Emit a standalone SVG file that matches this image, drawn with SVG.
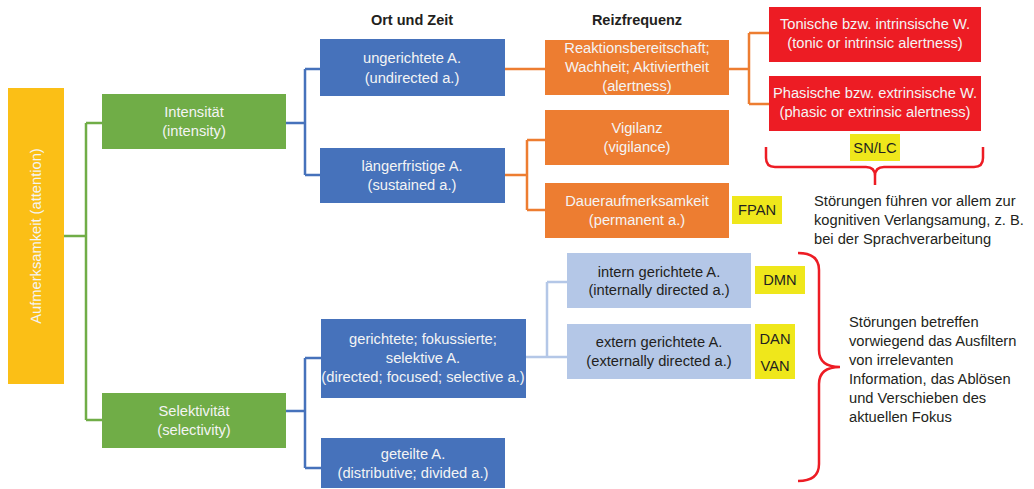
<svg xmlns="http://www.w3.org/2000/svg" width="1034" height="489" viewBox="0 0 1034 489">
<style>
text{font-family:"Liberation Sans",Arial,sans-serif;font-size:14.7px;text-anchor:middle}
.w{fill:#F4F4F4}
.d{fill:#231F20}
.l{text-anchor:start}
.h{font-weight:bold;font-size:14.5px}
.c{fill:none;stroke-width:2.5}
.g{stroke:#70AD47}
.b{stroke:#4672BB}
.o{stroke:#ED7D31}
.lb{stroke:#B4C7E7}
.br{fill:none;stroke:#ED1C24;stroke-width:2.5}
.hl{fill:#EFE71B}
</style>
<rect width="1034" height="489" fill="#FFFFFF"/>
<g id="connectors">
<path class="c g" d="M64,236 H86 M86,123 V420 M86,123 H102 M86,420 H102"/>
<path class="c b" d="M286,123 H305 M305,69 V175 M305,69 H320 M305,175 H320"/>
<path class="c b" d="M286,411 H305 M305,358 V468 M305,358 H321 M305,468 H321"/>
<path class="c o" d="M505,69 H545"/>
<path class="c o" d="M505,175 H527 M527,140 V210 M527,140 H545 M527,210 H545"/>
<path class="c o" d="M729,69 H749 M749,33 V104 M749,33 H769 M749,104 H769"/>
<path class="c lb" d="M526,357 H567 M547,282 V357 M547,282 H567"/>
</g>
<g id="headers">
<text class="h d" x="412" y="25">Ort und Zeit</text>
<text class="h d" x="637" y="25">Reizfrequenz</text>
</g>
<g id="attention">
<rect x="8" y="88" width="56" height="296" fill="#FBBF16"/>
<text class="w" transform="translate(41,236) rotate(-90)" font-size="15">Aufmerksamkeit (attention)</text>
</g>
<g id="intensitaet">
<rect x="102" y="94" width="184" height="55" fill="#70AD47"/>
<text class="w" x="194" y="117">Intensität</text>
<text class="w" x="194" y="136">(intensity)</text>
</g>
<g id="selektivitaet">
<rect x="102" y="393" width="184" height="55" fill="#70AD47"/>
<text class="w" x="194" y="416">Selektivität</text>
<text class="w" x="194" y="435">(selectivity)</text>
</g>
<g id="ungerichtete">
<rect x="320" y="39" width="185" height="57" fill="#4672BB"/>
<text class="w" x="412" y="63">ungerichtete A.</text>
<text class="w" x="412" y="83">(undirected a.)</text>
</g>
<g id="laengerfristige">
<rect x="320" y="148" width="185" height="55" fill="#4672BB"/>
<text class="w" x="412" y="171">längerfristige A.</text>
<text class="w" x="412" y="190">(sustained a.)</text>
</g>
<g id="gerichtete">
<rect x="321" y="319" width="205" height="79" fill="#4672BB"/>
<text class="w" x="423" y="344">gerichtete; fokussierte;</text>
<text class="w" x="423" y="363">selektive A.</text>
<text class="w" x="423" y="382">(directed; focused; selective a.)</text>
</g>
<g id="geteilte">
<rect x="321" y="438" width="184" height="50" fill="#4672BB"/>
<text class="w" x="413" y="459">geteilte A.</text>
<text class="w" x="413" y="478">(distributive; divided a.)</text>
</g>
<g id="alertness">
<rect x="545" y="40" width="184" height="55" fill="#ED7D31"/>
<text class="w" x="637" y="53">Reaktionsbereitschaft;</text>
<text class="w" x="637" y="72">Wachheit; Aktiviertheit</text>
<text class="w" x="637" y="91">(alertness)</text>
</g>
<g id="vigilanz">
<rect x="545" y="110" width="184" height="55" fill="#ED7D31"/>
<text class="w" x="637" y="133">Vigilanz</text>
<text class="w" x="637" y="152">(vigilance)</text>
</g>
<g id="daueraufmerksamkeit">
<rect x="545" y="183" width="184" height="55" fill="#ED7D31"/>
<text class="w" x="637" y="206">Daueraufmerksamkeit</text>
<text class="w" x="637" y="225">(permanent a.)</text>
</g>
<g id="fpan">
<rect class="hl" x="732" y="196" width="50" height="28"/>
<text class="d" x="757" y="215">FPAN</text>
</g>
<g id="tonische">
<rect x="769" y="7" width="212" height="55" fill="#ED1C24"/>
<text class="w" x="875" y="29">Tonische bzw. intrinsische W.</text>
<text class="w" x="875" y="48">(tonic or intrinsic alertness)</text>
</g>
<g id="phasische">
<rect x="769" y="76" width="212" height="55" fill="#ED1C24"/>
<text class="w" x="875" y="98">Phasische bzw. extrinsische W.</text>
<text class="w" x="875" y="117">(phasic or extrinsic alertness)</text>
</g>
<g id="snlc">
<rect class="hl" x="850" y="134" width="50" height="27"/>
<text class="d" x="875" y="153">SN/LC</text>
</g>
<g id="brace-top">
<path class="br" d="M766,147 V158 Q766,167 775,167 H866 Q875,167 875,176 V185 M983,147 V158 Q983,167 974,167 H884 Q875,167 875,176"/>
<text class="d l" x="814" y="206">Störungen führen vor allem zur</text>
<text class="d l" x="814" y="225">kognitiven Verlangsamung, z. B.</text>
<text class="d l" x="814" y="244">bei der Sprachverarbeitung</text>
</g>
<g id="intern">
<rect x="567" y="253" width="184" height="55" fill="#B4C7E7"/>
<text class="d" x="659" y="277">intern gerichtete A.</text>
<text class="d" x="659" y="295">(internally directed a.)</text>
</g>
<g id="extern">
<rect x="567" y="324" width="184" height="55" fill="#B4C7E7"/>
<text class="d" x="659" y="347">extern gerichtete A.</text>
<text class="d" x="659" y="366">(externally directed a.)</text>
</g>
<g id="dmn">
<rect class="hl" x="755" y="266" width="50" height="28"/>
<text class="d" x="780" y="285">DMN</text>
</g>
<g id="dan-van">
<rect class="hl" x="755" y="324" width="40" height="55"/>
<text class="d" x="775" y="344">DAN</text>
<text class="d" x="775" y="371">VAN</text>
</g>
<g id="brace-right">
<path class="br" d="M798,253 Q819,253 819,270 V350 Q819,367 840,367 M819,367 Q819,367 819,367 M840,367 Q819,367 819,384 V464 Q819,481 798,481"/>
<text class="d l" x="849" y="327">Störungen betreffen</text>
<text class="d l" x="849" y="346">vorwiegend das Ausfiltern</text>
<text class="d l" x="849" y="365">von irrelevanten</text>
<text class="d l" x="849" y="384">Information, das Ablösen</text>
<text class="d l" x="849" y="403">und Verschieben des</text>
<text class="d l" x="849" y="422">aktuellen Fokus</text>
</g>
</svg>
